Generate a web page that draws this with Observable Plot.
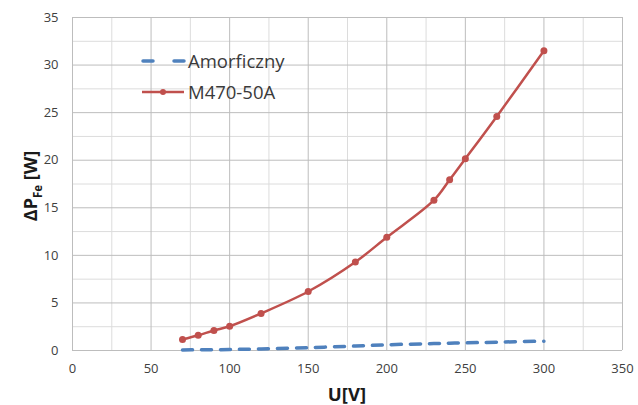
<!DOCTYPE html>
<html>
<head>
<meta charset="utf-8">
<script src="https://cdn.jsdelivr.net/npm/d3@7"></script>
<script src="https://cdn.jsdelivr.net/npm/@observablehq/plot@0.6"></script>
<style>
  body { margin: 0; background: #fff; }
  #chart { position: relative; width: 638px; height: 405px; font-family: "Open Sans", sans-serif; }
  #legend { position: absolute; left: 138px; top: 45px; color: #3a3a3a; font-size: 18.5px; }
  #legend .row { display: flex; align-items: center; height: 31px; }
  #legend svg { width: 50px; height: 12px; }
</style>
</head>
<body>
<div id="chart"></div>
<script>
// Core loss vs. supply voltage for two magnetic materials
const voltage    = [70, 80, 90, 100, 120, 150, 180, 200, 230, 240, 250, 270, 300];
const lossM470   = [1.15, 1.6, 2.1, 2.55, 3.9, 6.2, 9.3, 11.9, 15.8, 17.95, 20.15, 24.6, 31.5];
const lossAmorph = [0.06, 0.07, 0.08, 0.1, 0.17, 0.3, 0.47, 0.6, 0.73, 0.77, 0.8, 0.88, 0.98];

const xTicks = [0, 50, 100, 150, 200, 250, 300, 350];
const yTicks = [0, 5, 10, 15, 20, 25, 30, 35];
const xMinor = [25, 75, 125, 175, 225, 275, 325];
const yMinor = [2.5, 7.5, 12.5, 17.5, 22.5, 27.5, 32.5];

const seriesNames = ["Amorficzny", "M470-50A"];
const colors = {"Amorficzny": "#4f81bd", "M470-50A": "#c0504d"};

const m470 = voltage.map((u, i) => ({u, p: lossM470[i]}));
const amorph = voltage.map((u, i) => ({u, p: lossAmorph[i]}));

const plot = Plot.plot({
  width: 638,
  height: 405,
  marginLeft: 72,
  marginRight: 16,
  marginTop: 17,
  marginBottom: 55,
  style: {fontFamily: "Open Sans, sans-serif", background: "#fff"},
  x: {domain: [0, 350]},
  y: {domain: [0, 35]},
  marks: [
    Plot.ruleX(xMinor, {stroke: "#dcdcdc", strokeWidth: 1}),
    Plot.ruleY(yMinor, {stroke: "#dcdcdc", strokeWidth: 1}),
    Plot.ruleX(xTicks, {stroke: "#bdbdbd", strokeWidth: 1}),
    Plot.ruleY(yTicks, {stroke: "#bdbdbd", strokeWidth: 1}),
    Plot.axisX(xTicks, {tickSize: 0, tickPadding: 13, fontSize: 13, color: "#404040", label: null}),
    Plot.axisY(yTicks, {tickSize: 0, tickPadding: 14, fontSize: 13, color: "#404040", label: null}),
    Plot.line(amorph, {x: "u", y: "p", stroke: colors["Amorficzny"], strokeWidth: 3.5,
      strokeDasharray: "10,9", strokeLinecap: "round", curve: "catmull-rom"}),
    Plot.line(m470, {x: "u", y: "p", stroke: colors["M470-50A"], strokeWidth: 2.5, curve: "catmull-rom"}),
    Plot.dot(m470, {x: "u", y: "p", r: 3.5, fill: colors["M470-50A"], stroke: "none"})
  ]
});

const svg = d3.select(plot);

// Axis titles
svg.append("text")
  .attr("transform", "translate(37,186) rotate(-90)")
  .attr("text-anchor", "middle")
  .attr("fill", "#1a1a1a")
  .attr("font-weight", "bold")
  .attr("font-size", 18)
  .call(t => {
    t.append("tspan").text("ΔP");
    t.append("tspan").attr("font-size", 11.5).attr("dy", 5).text("Fe");
    t.append("tspan").attr("dy", -5).text(" [W]");
  });

svg.append("text")
  .attr("x", 347)
  .attr("y", 401)
  .attr("text-anchor", "middle")
  .attr("fill", "#1a1a1a")
  .attr("font-weight", "bold")
  .attr("font-size", 18.5)
  .text("U[V]");

const chart = document.getElementById("chart");
chart.appendChild(plot);

// Legend inside the plot area
const legend = document.createElement("div");
legend.id = "legend";
seriesNames.forEach(name => {
  const row = document.createElement("div");
  row.className = "row";
  const s = d3.create("svg").attr("viewBox", "0 0 50 12");
  if (name === "Amorficzny") {
    s.append("line").attr("x1", 5).attr("x2", 15).attr("y1", 6).attr("y2", 6)
      .attr("stroke", colors[name]).attr("stroke-width", 3.5).attr("stroke-linecap", "round");
    s.append("line").attr("x1", 36).attr("x2", 46).attr("y1", 6).attr("y2", 6)
      .attr("stroke", colors[name]).attr("stroke-width", 3.5).attr("stroke-linecap", "round");
  } else {
    s.append("line").attr("x1", 4).attr("x2", 46).attr("y1", 6).attr("y2", 6)
      .attr("stroke", colors[name]).attr("stroke-width", 2.5);
    s.append("circle").attr("cx", 25).attr("cy", 6).attr("r", 3).attr("fill", colors[name]);
  }
  row.appendChild(s.node());
  const label = document.createElement("span");
  label.textContent = name;
  row.appendChild(label);
  legend.appendChild(row);
});
chart.appendChild(legend);
</script>
</body>
</html>
